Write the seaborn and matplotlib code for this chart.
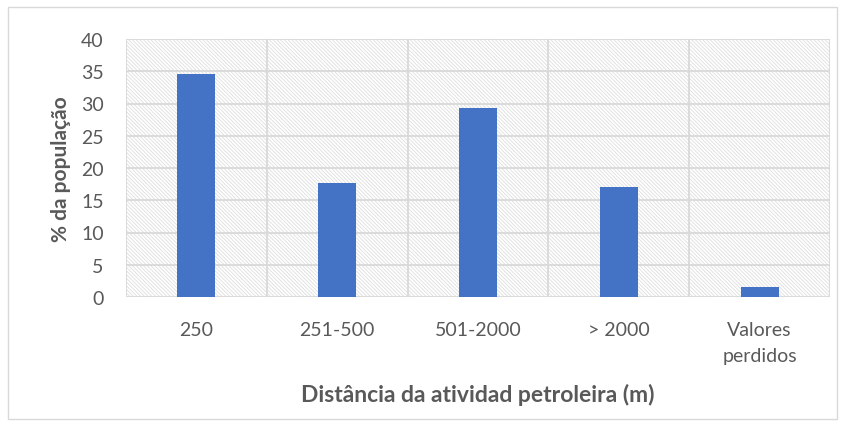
import matplotlib
matplotlib.use("Agg")
import matplotlib.pyplot as plt
from matplotlib.patches import Rectangle
import seaborn as sns
import pandas as pd

# Data
categories = ["250", "251-500", "501-2000", "> 2000", "Valores\nperdidos"]
percent = [34.5, 17.6, 29.3, 17.1, 1.5]

df = pd.DataFrame({"cat": categories, "pct": percent})

sns.set_theme(style="white")
plt.rcParams["font.family"] = ["Lato", "DejaVu Sans"]
plt.rcParams["hatch.linewidth"] = 0.6
plt.rcParams["hatch.color"] = "#dedede"

fig = plt.figure(figsize=(8.45, 4.35), dpi=100)
ax = fig.add_axes([126 / 845, 1 - 298 / 435, (830 - 126) / 845, (298 - 40) / 435])

# hatched plot area background
bg = Rectangle((0, 0), 1, 1, transform=ax.transAxes, facecolor="white",
               edgecolor="#dedede", hatch="\\" * 9, linewidth=0, zorder=0)
ax.add_patch(bg)

sns.barplot(data=df, x="cat", y="pct", color="#4472C4", width=0.27,
            saturation=1, linewidth=0, ax=ax, zorder=3)

ax.set_xlim(-0.5, len(categories) - 0.5)
ax.set_ylim(0, 40)
ax.set_yticks(range(0, 41, 5))

# grid: horizontal every 5, vertical between categories
for y in range(0, 41, 5):
    ax.axhline(y, color="#d9d9d9", lw=1.3, zorder=1)
for i in range(len(categories) + 1):
    ax.axvline(i - 0.5, color="#d9d9d9", lw=1.3, zorder=1)

for s in ax.spines.values():
    s.set_visible(False)

ax.tick_params(axis="both", length=0, labelsize=14, colors="#595959")
ax.tick_params(axis="y", pad=16)
ax.tick_params(axis="x", pad=17)
for t in ax.get_xticklabels():
    t.set_linespacing(1.65)
ax.set_xlabel("Distância da atividad petroleira (m)", fontsize=16.5,
              fontweight="bold", color="#595959", labelpad=14)
ax.set_ylabel("% da população", fontsize=15, fontweight="bold",
              color="#595959", labelpad=7)

# outer frame
fig.patches.append(Rectangle((8 / 845, 1 - 420 / 435), 829 / 845, 412 / 435,
                             transform=fig.transFigure, fill=False,
                             edgecolor="#d9d9d9", lw=1))

fig.savefig("out.png", dpi=100)
